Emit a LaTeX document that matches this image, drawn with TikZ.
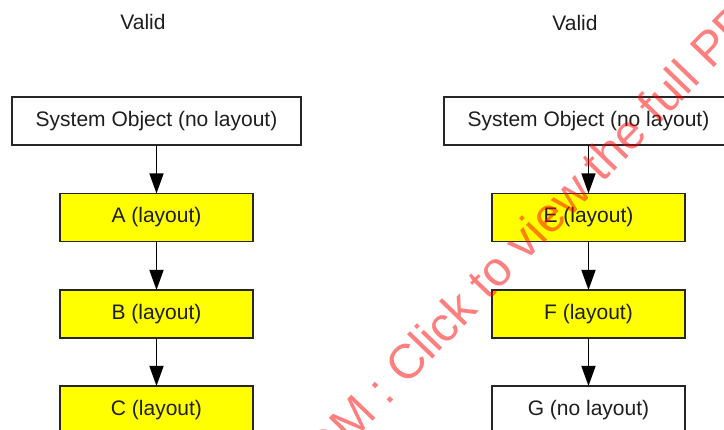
\documentclass[tikz,border=0pt]{standalone}
\usepackage{fontspec}
\setmainfont{Liberation Sans}
\usetikzlibrary{arrows.meta}
\definecolor{boxyellow}{RGB}{255,255,0}
\definecolor{inkgray}{RGB}{30,30,30}
\begin{document}
\begin{tikzpicture}[x=1pt,y=-1pt,
  every node/.style={font=\fontsize{21}{25}\selectfont, text=inkgray},
  flowbox/.style={draw=black!85, line width=1.4pt, minimum height=48pt,
                  inner sep=0pt, outer sep=0pt},
  rootbox/.style={flowbox, fill=white, minimum width=289pt},
  layoutbox/.style={flowbox, fill=boxyellow, minimum width=193pt},
  nolayoutbox/.style={flowbox, fill=white, minimum width=193pt},
  link/.style={draw=black, line width=1.4pt, -{Triangle[length=20pt,width=14pt]}},
  stamp/.style={font=\fontsize{48.5}{52}\selectfont, text=red, text opacity=0.5,
                inner sep=0pt}]
\clip (0,0) rectangle (724,430);
\fill[white] (0,0) rectangle (724,430);

% left chain
\node (lvalid) at (143,22) {Valid};
\node[rootbox]   (lroot) at (156.5,121) {System Object (no layout)};
\node[layoutbox] (a)     at (156.5,217.5) {A (layout)};
\node[layoutbox] (b)     at (156.5,314) {B (layout)};
\node[layoutbox] (c)     at (156.5,410) {C (layout)};
\draw[link] (lroot.south) -- (a.north);
\draw[link] (a.south) -- (b.north);
\draw[link] (b.south) -- (c.north);

% right chain
\node (rvalid) at (575,23) {Valid};
\node[rootbox]     (rroot) at (588.5,121) {System Object (no layout)};
\node[layoutbox]   (e)     at (588.5,217.5) {E (layout)};
\node[layoutbox]   (f)     at (588.5,314) {F (layout)};
\node[nolayoutbox] (g)     at (588.5,410) {G (no layout)};
\draw[link] (rroot.south) -- (e.north);
\draw[link] (e.south) -- (f.north);
\draw[link] (f.south) -- (g.north);

% diagonal stamp across the page
\node[stamp, rotate=46, anchor=base west] (wm) at (406,387)
  {\llap{ISO.COM :\ }Click to view the full PDF};
\end{tikzpicture}
\end{document}
